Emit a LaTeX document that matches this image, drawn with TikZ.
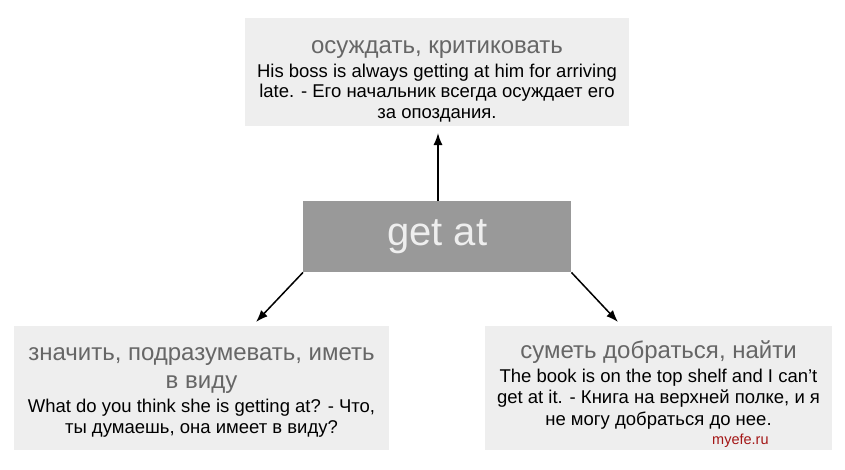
\documentclass[tikz,border=0pt]{standalone}
\usepackage{fontspec}
\setmainfont{Liberation Sans}
\usetikzlibrary{arrows.meta}
\definecolor{boxgray}{HTML}{EEEEEE}
\definecolor{centergray}{HTML}{999999}
\definecolor{titlegray}{HTML}{666666}
\definecolor{brandred}{HTML}{A31515}
\tikzset{
  infobox/.style={fill=boxgray, draw=none, inner sep=0pt, anchor=north west},
  titletext/.style={text=titlegray, font=\fontsize{24}{28}\selectfont, anchor=base, inner sep=0pt},
  bodytext/.style={text=black, font=\fontsize{18.5}{21}\selectfont, anchor=base, inner sep=0pt},
  conn/.style={draw=black, line width=1.5pt, -{Latex[length=12pt,width=9pt]}},
}
\begin{document}
\begin{tikzpicture}[x=1pt,y=-1pt]
\useasboundingbox (0,0) rectangle (845,469);
% boxes
\node[infobox, minimum width=384pt, minimum height=108pt] (top) at (245,18) {};
\node[infobox, minimum width=375pt, minimum height=124pt] (left) at (14,326) {};
\node[infobox, minimum width=347pt, minimum height=124pt] (right) at (485,326) {};
\node[fill=centergray, minimum width=268pt, minimum height=71pt, inner sep=0pt, anchor=north west,
      text=boxgray, font=\fontsize{40}{44}\selectfont] (c) at (303,201) {get at};
% top text
\node[titletext] (t0) at (437,53) {осуждать, критиковать};
\node[bodytext] (t1) at (437,77) {His boss is always getting at him for arriving};
\node[bodytext] (t2) at (437,97.5) {late. - Его начальник всегда осуждает его};
\node[bodytext] (t3) at (437,118) {за опоздания.};
% left text
\node[titletext] (l0) at (201.5,360) {значить, подразумевать, иметь};
\node[titletext] (l1) at (201.5,388) {в виду};
\node[bodytext] (l2) at (201.5,412) {What do you think she is getting at? - Что,};
\node[bodytext] (l3) at (201.5,433) {ты думаешь, она имеет в виду?};
% right text
\node[titletext] (r0) at (658.5,358) {суметь добраться, найти};
\node[bodytext] (r1) at (658.5,382) {The book is on the top shelf and I can’t};
\node[bodytext] (r2) at (658.5,403) {get at it. - Книга на верхней полке, и я};
\node[bodytext] (r3) at (658.5,425) {не могу добраться до нее.};
\node[text=brandred, font=\fontsize{14.5}{16}\selectfont, anchor=base west, inner sep=0pt] (brand) at (712,444) {myefe.ru};
% arrows
\coordinate (tipT) at (438,133);
\coordinate (tipL) at (256,322);
\coordinate (tipR) at (618,322);
\coordinate (cT) at (438,201);
\draw[conn] (cT) -- (tipT);
\draw[conn] (c.south west) -- (tipL);
\draw[conn] (c.south east) -- (tipR);
\end{tikzpicture}
\end{document}
